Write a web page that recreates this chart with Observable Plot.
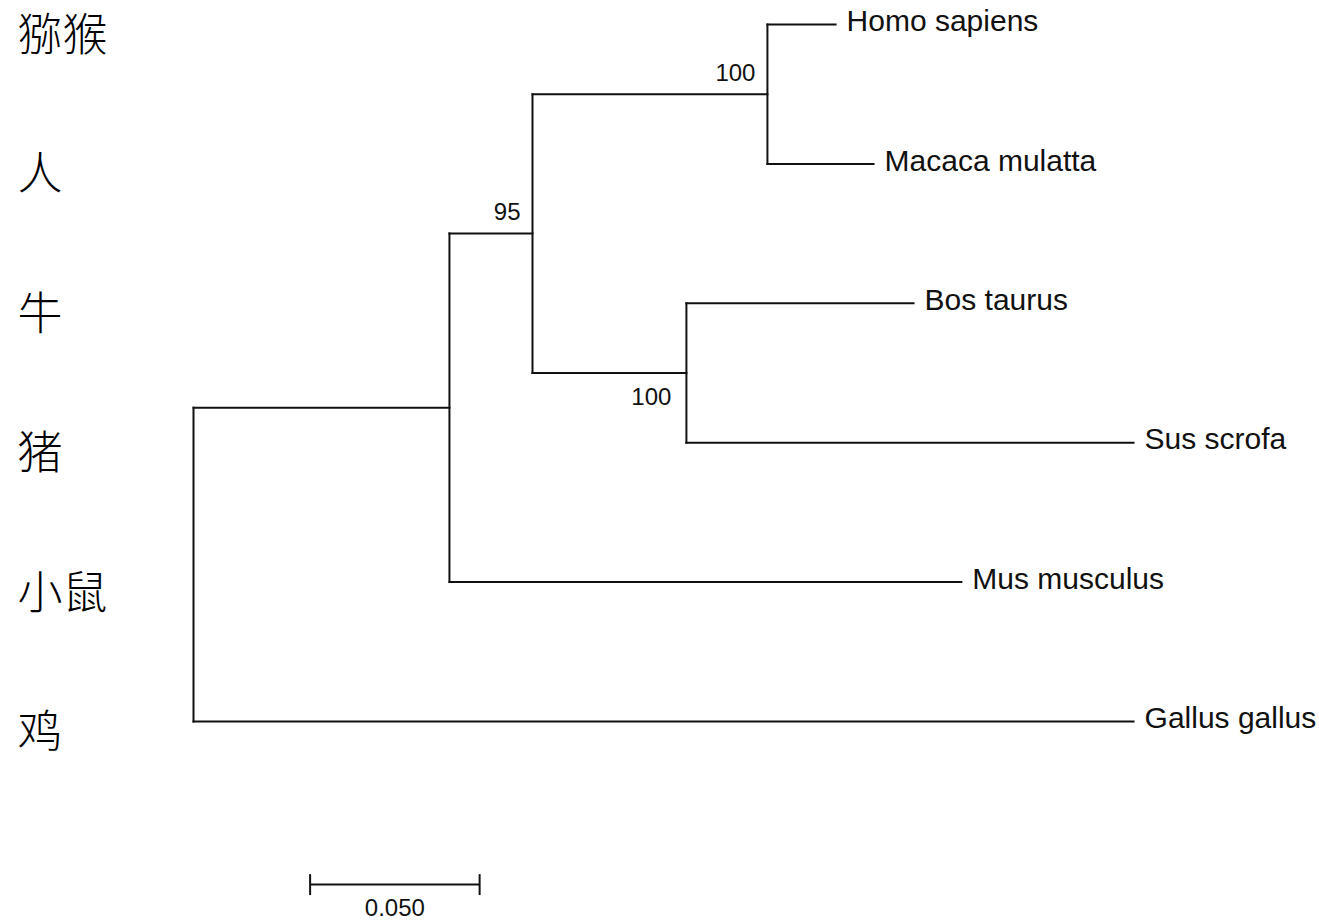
<!DOCTYPE html>
<html>
<head>
<meta charset="utf-8">
<script src="https://cdn.jsdelivr.net/npm/d3@7"></script>
<script src="https://cdn.jsdelivr.net/npm/@observablehq/plot@0.6"></script>
<style>
  html, body { margin: 0; padding: 0; background: #fff; }
  #chart svg { display: block; }
</style>
</head>
<body>
<div id="chart"></div>
<script>
const leaves = ["Homo sapiens", "Macaca mulatta", "Bos taurus", "Sus scrofa", "Mus musculus", "Gallus gallus"];
const chineseNames = ["猕猴", "人", "牛", "猪", "小鼠", "鸡"];
const childNodes  = ["A", "Gallus gallus", "B", "Mus musculus", "C", "D", "Homo sapiens", "Macaca mulatta", "Bos taurus", "Sus scrofa"];
const parentNodes = ["root", "root", "A", "A", "B", "B", "C", "C", "D", "D"];
const branchLengths = [0.0755, 0.2773, 0.0245, 0.1510, 0.0693, 0.0454, 0.0201, 0.0313, 0.0670, 0.1319];
const bootstrapNodes = ["B", "C", "D"];
const bootstrapValues = [95, 100, 100];
const scaleBarLength = 0.050;
const scaleBarLabel = "0.050";

// ---- Build tree geometry in data units ----
const children = new Map();
parentNodes.forEach((p, i) => {
  if (!children.has(p)) children.set(p, []);
  children.get(p).push({name: childNodes[i], len: branchLengths[i]});
});
const depth = new Map([["root", 0]]);
(function walk(n) {
  for (const c of (children.get(n) || [])) { depth.set(c.name, depth.get(n) + c.len); walk(c.name); }
})("root");
const row = new Map();
leaves.forEach((l, i) => row.set(l, i));
(function rowOf(n) {
  if (row.has(n)) return row.get(n);
  const ys = children.get(n).map(c => rowOf(c.name));
  const r = (d3.min(ys) + d3.max(ys)) / 2;
  row.set(n, r);
  return r;
})("root");

const horizontal = childNodes.map((c, i) => ({
  x1: depth.get(parentNodes[i]), x2: depth.get(c), y: row.get(c)
}));
const vertical = Array.from(children.keys()).map(n => {
  const ys = children.get(n).map(c => row.get(c.name));
  return {x: depth.get(n), y1: d3.min(ys), y2: d3.max(ys)};
});
const leafData = leaves.map((l, i) => ({name: l, x: depth.get(l), y: row.get(l), zh: chineseNames[i]}));
const bootData = bootstrapNodes.map((n, i) => ({x: depth.get(n), y: row.get(n), v: String(bootstrapValues[i]), below: n === "D"}));

const barStart = 0.0344;
const barRow = 6.17;
const scaleBar = [{x1: barStart, x2: barStart + scaleBarLength, y: barRow}];
const scaleTicks = [barStart, barStart + scaleBarLength].map(x => ({x, y1: barRow - 0.075, y2: barRow + 0.075}));

const pxPerUnit = 3390;
const plot = Plot.plot({
  width: 1319,
  height: 920,
  margin: 0,
  style: {background: "#fff", overflow: "visible"},
  x: {domain: [0, 0.3], range: [193, 193 + 0.3 * pxPerUnit], axis: null},
  y: {domain: [0, 5], range: [24, 721], axis: null},
  marks: [
    Plot.link(horizontal, {x1: "x1", x2: "x2", y1: "y", y2: "y", stroke: "#111", strokeWidth: 2, strokeLinecap: "square"}),
    Plot.link(vertical, {x1: "x", x2: "x", y1: "y1", y2: "y2", stroke: "#111", strokeWidth: 2, strokeLinecap: "square"}),
    Plot.text(leafData, {x: "x", y: "y", text: "name", textAnchor: "start", dx: 11, dy: -3,
      fontSize: 30, fontFamily: "Liberation Sans, Arial, sans-serif", fill: "#111"}),
    Plot.text(bootData.filter(d => !d.below), {x: "x", y: "y", text: "v", textAnchor: "end", dx: -12, dy: -21,
      fontSize: 24, fontFamily: "Liberation Sans, Arial, sans-serif", fill: "#111"}),
    Plot.text(bootData.filter(d => d.below), {x: "x", y: "y", text: "v", textAnchor: "end", dx: -15, dy: 24,
      fontSize: 24, fontFamily: "Liberation Sans, Arial, sans-serif", fill: "#111"}),
    Plot.text(leafData, {y: "y", text: "zh", frameAnchor: "left", textAnchor: "start", dx: 17, dy: 12,
      fontSize: 45, fontFamily: "Noto Sans CJK SC, sans-serif", fontWeight: 300, fill: "#000"}),
    Plot.link(scaleBar, {x1: "x1", x2: "x2", y1: "y", y2: "y", stroke: "#111", strokeWidth: 2}),
    Plot.link(scaleTicks, {x1: "x", x2: "x", y1: "y1", y2: "y2", stroke: "#111", strokeWidth: 2}),
    Plot.text(scaleBar, {x: d => (d.x1 + d.x2) / 2, y: "y", text: () => scaleBarLabel, dy: 24,
      fontSize: 24, fontFamily: "Liberation Sans, Arial, sans-serif", fill: "#111"})
  ]
});
document.getElementById("chart").appendChild(plot);
</script>
</body>
</html>
